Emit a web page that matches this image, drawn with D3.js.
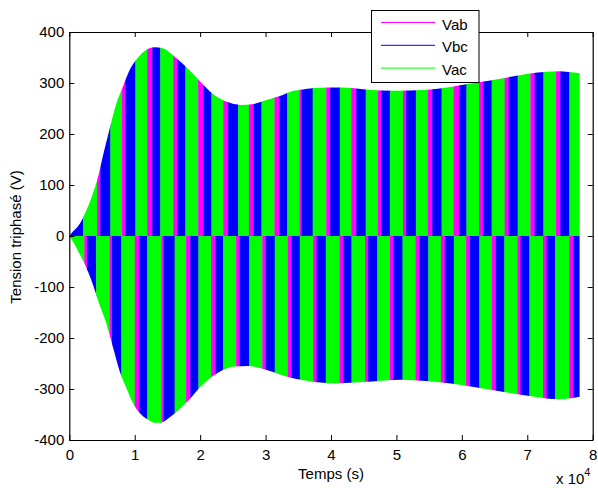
<!DOCTYPE html>
<html>
<head>
<meta charset="utf-8">
<script src="https://cdn.jsdelivr.net/npm/d3@7"></script>
<style>
  body { margin: 0; background: #fff; }
  svg { display: block; font-family: "Liberation Sans", Arial, sans-serif; }
</style>
</head>
<body>
<svg id="chart" width="598" height="488"></svg>
<script>
// ---------- data (time in units of 1e4 s, voltage in V) ----------
const seriesNames = ["Vab", "Vbc", "Vac"];
const seriesColors = ["#ff00ff", "#0000ff", "#00ff00"];
const xTicks = [0, 1, 2, 3, 4, 5, 6, 7, 8];
const yTicks = [-400, -300, -200, -100, 0, 100, 200, 300, 400];
const tEnd = 7.8;

// upper envelope (positive peaks)
const upperT = [0, 0.03, 0.16, 0.26, 0.36, 0.44, 0.51, 0.61, 0.72, 0.82, 0.92, 1.02, 1.17, 1.30, 1.43, 1.58, 1.73, 1.89, 2.0, 2.2, 2.41, 2.62, 2.82, 3.03, 3.23, 3.43, 3.54, 3.95, 4.15, 4.56, 4.96, 5.48, 5.78, 6.09, 6.39, 6.70, 7.01, 7.31, 7.47, 7.80];
const upperV = [0, 5, 24, 50, 83, 116, 155, 207, 260, 293, 325, 345, 364, 370, 368, 355, 338, 318, 303, 278, 263, 257, 259, 267, 275, 285, 287, 291, 291, 287, 285, 287, 291, 298, 304, 311, 318, 322, 323, 319];

// lower envelope (negative peaks)
const lowerT = [0, 0.05, 0.16, 0.26, 0.36, 0.46, 0.57, 0.67, 0.77, 0.87, 0.97, 1.07, 1.20, 1.30, 1.40, 1.53, 1.68, 1.84, 2.0, 2.26, 2.52, 2.72, 3.03, 3.33, 3.54, 4.05, 4.56, 5.07, 5.58, 6.09, 6.60, 7.11, 7.47, 7.80];
const lowerV = [0, -10, -36, -62, -95, -134, -173, -219, -265, -297, -327, -346, -360, -366, -366, -356, -340, -320, -296, -269, -256, -255, -263, -276, -282, -289, -286, -282, -286, -294, -305, -315, -320, -315];

// start times of the visible colour bands (positive half)
const topVab = [0.424, 0.806, 1.19, 1.587, 1.969, 2.352, 2.745, 3.136, 3.518, 3.927, 4.309, 4.717, 5.10, 5.48, 5.875, 6.263, 6.654, 7.047, 7.44];
const topVbc = [0.0, 0.474, 0.856, 1.27, 1.652, 2.05, 2.427, 2.819, 3.208, 3.55, 3.988, 4.386, 4.768, 5.15, 5.549, 5.957, 6.324, 6.716, 7.113, 7.506];
const topVac = [0.21, 0.627, 1.01, 1.39, 1.774, 2.172, 2.58, 2.937, 3.33, 3.72, 4.134, 4.53, 4.9, 5.297, 5.69, 6.07, 6.455, 6.853, 7.246, 7.643];

// start times of the visible colour bands (negative half)
const botVab = [0.23, 0.617, 1.0, 1.407, 1.785, 2.167, 2.55, 2.95, 3.34, 3.727, 4.13, 4.52, 4.90, 5.29, 5.68, 6.065, 6.46, 6.85, 7.24, 7.64];
const botVbc = [0.27, 0.653, 1.067, 1.442, 1.85, 2.233, 2.605, 3.003, 3.396, 3.78, 4.187, 4.569, 4.951, 5.349, 5.74, 6.123, 6.52, 6.898, 7.296, 7.704];
const botVac = [0.0, 0.41, 0.795, 1.19, 1.61, 1.973, 2.35, 2.749, 3.14, 3.523, 3.92, 4.313, 4.706, 5.093, 5.487, 5.878, 6.267, 6.649, 7.032, 7.423];

// ---------- layout ----------
const svg = d3.select("#chart");
const x = d3.scaleLinear().domain([0, 8]).range([69.3, 592.7]);
const y = d3.scaleLinear().domain([-400, 400]).range([440, 32]);
const fontSize = 15;
const fmt = d => String(d);

const defs = svg.append("defs");
const upperPts = upperT.map((t, i) => [t, upperV[i]]);
const lowerPts = lowerT.map((t, i) => [t, lowerV[i]]);
const area = d3.area().x(d => x(d[0])).y0(y(0)).y1(d => y(d[1])).curve(d3.curveMonotoneX);
defs.append("clipPath").attr("id", "clipTop").append("path").attr("d", area(upperPts));
defs.append("clipPath").attr("id", "clipBot").append("path").attr("d", area(lowerPts));

function segments(lists) {
  const starts = [];
  lists.forEach((arr, si) => arr.forEach(t => starts.push({ t, si })));
  starts.sort((a, b) => a.t - b.t);
  return starts.map((s, i) => ({ s: s.t, e: i < starts.length - 1 ? starts[i + 1].t : tEnd, si: s.si }));
}

const topSeg = segments([topVab, topVbc, topVac]);
const botSeg = segments([botVab, botVbc, botVac]);

svg.append("g").attr("clip-path", "url(#clipTop)")
  .selectAll("rect").data(topSeg).join("rect")
  .attr("x", d => x(d.s)).attr("width", d => Math.max(0, x(d.e) - x(d.s)) + 0.4)
  .attr("y", y(400)).attr("height", y(0) - y(400) + 0.5)
  .attr("fill", d => seriesColors[d.si]);

svg.append("g").attr("clip-path", "url(#clipBot)")
  .selectAll("rect").data(botSeg).join("rect")
  .attr("x", d => x(d.s)).attr("width", d => Math.max(0, x(d.e) - x(d.s)) + 0.4)
  .attr("y", y(0) - 0.5).attr("height", y(-400) - y(0) + 0.5)
  .attr("fill", d => seriesColors[d.si]);

// ---------- axes ----------
const gx = svg.append("g").attr("transform", `translate(0,${y(-400)})`)
  .call(d3.axisBottom(x).tickValues(xTicks).tickSize(-5).tickSizeOuter(0).tickPadding(9).tickFormat(fmt));
const gy = svg.append("g").attr("transform", `translate(${x(0)},0)`)
  .call(d3.axisLeft(y).tickValues(yTicks).tickSize(-5).tickSizeOuter(0).tickPadding(5).tickFormat(fmt));
const gt = svg.append("g").attr("transform", `translate(0,${y(400)})`)
  .call(d3.axisTop(x).tickValues(xTicks).tickSize(-5).tickSizeOuter(0).tickFormat(""));
const gr = svg.append("g").attr("transform", `translate(${x(8)},0)`)
  .call(d3.axisRight(y).tickValues(yTicks).tickSize(-5).tickSizeOuter(0).tickFormat(""));
[gx, gy, gt, gr].forEach(g => {
  g.selectAll("path.domain").attr("stroke", "#000").attr("stroke-width", 1.2);
  g.selectAll(".tick line").attr("stroke", "#000");
  g.selectAll("text").attr("font-size", fontSize).attr("fill", "#000")
    .attr("font-family", "Liberation Sans, Arial, sans-serif");
});

// axis labels
svg.append("text").attr("x", x(4)).attr("y", 479).attr("text-anchor", "middle")
  .attr("font-size", fontSize).text("Temps (s)");
svg.append("text").attr("transform", `translate(21,${y(0) + 1}) rotate(-90)`)
  .attr("text-anchor", "middle").attr("font-size", fontSize).text("Tension triphasé (V)");
const exp = svg.append("text").attr("x", 556).attr("y", 484).attr("font-size", fontSize).text("x 10");
exp.append("tspan").attr("dy", -8).attr("font-size", 11).text("4");

// ---------- legend ----------
const lg = svg.append("g");
lg.append("rect").attr("x", 371.5).attr("y", 10.5).attr("width", 107.5).attr("height", 72)
  .attr("fill", "#fff").attr("stroke", "#000").attr("stroke-width", 1);
seriesNames.forEach((name, i) => {
  const ly = 22.5 + i * 22.8;
  lg.append("line").attr("x1", 381).attr("x2", 435).attr("y1", ly).attr("y2", ly)
    .attr("stroke", seriesColors[i]).attr("stroke-width", 1);
  lg.append("text").attr("x", 442).attr("y", ly + 7).attr("font-size", fontSize).text(name);
});
</script>
</body>
</html>
